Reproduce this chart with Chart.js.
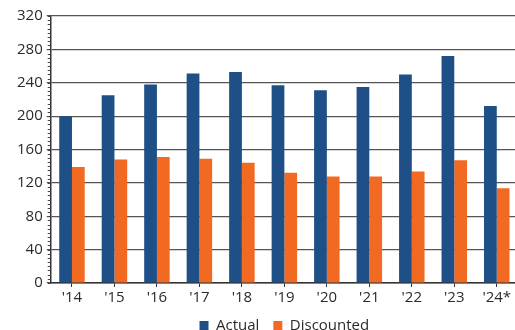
<!DOCTYPE html>
<html>
<head>
<meta charset="utf-8">
<script src="https://cdn.jsdelivr.net/npm/chart.js@4"></script>
<style>
  html, body { margin: 0; padding: 0; background: #fff; overflow: hidden; }
  #wrap { width: 518px; height: 343px; }
</style>
</head>
<body>
<div id="wrap"><canvas id="c" width="518" height="343"></canvas></div>
<script>
const years = ["'14", "'15", "'16", "'17", "'18", "'19", "'20", "'21", "'22", "'23", "'24*"];
const actual = [200, 225, 238, 251, 253, 237, 231, 235, 250, 272, 212];
const discounted = [139, 148, 151, 149, 144, 132, 127.5, 127.5, 133.5, 147, 113.5];
const yTicks = [0, 40, 80, 120, 160, 200, 240, 280, 320];

const FONT = "'Open Sans', 'Noto Sans', sans-serif";
const TEXT = '#2b2b2b';

// small minor tick marks on the left of the value axis
const minorTicks = {
  id: 'minorTicks',
  afterDraw(chart) {
    const y = chart.scales.y;
    const ctx = chart.ctx;
    ctx.save();
    ctx.strokeStyle = '#444';
    ctx.lineWidth = 1;
    for (let v = y.min; v <= y.max; v += 5) {
      const py = Math.round(y.getPixelForValue(v)) + 0.5;
      ctx.beginPath();
      ctx.moveTo(y.right - 3, py);
      ctx.lineTo(y.right, py);
      ctx.stroke();
    }
    ctx.restore();
  }
};

new Chart(document.getElementById('c'), {
  type: 'bar',
  data: {
    labels: years,
    datasets: [
      { label: 'Actual', data: actual, backgroundColor: '#1f4f87', borderWidth: 0 },
      { label: 'Discounted', data: discounted, backgroundColor: '#f26a21', borderWidth: 0 }
    ]
  },
  options: {
    responsive: false,
    animation: false,
    devicePixelRatio: 1,
    layout: { padding: { top: 16, left: 13, right: 0, bottom: 0 } },
    datasets: { bar: { categoryPercentage: 0.6, barPercentage: 1.0 } },
    scales: {
      x: {
        afterFit(scale) { scale.height -= 5; },
        grid: { display: true, drawOnChartArea: false, offset: false, color: '#333', tickLength: 4 },
        border: { color: '#333', width: 1.5 },
        ticks: { color: TEXT, font: { family: FONT, size: 15 }, padding: 2, maxRotation: 0 }
      },
      y: {
        min: 0, max: 320,
        afterBuildTicks(scale) { scale.ticks = yTicks.map(v => ({ value: v })); },
        grid: { color: '#555', lineWidth: 1.2, tickLength: 4 },
        border: { color: '#333', width: 1.5 },
        ticks: { color: TEXT, font: { family: FONT, size: 15 }, padding: 4 }
      }
    },
    plugins: {
      legend: {
        position: 'bottom',
        fullSize: false,
        labels: {
          color: TEXT,
          font: { family: FONT, size: 15 },
          boxWidth: 9, boxHeight: 9,
          padding: 14
        }
      },
      tooltip: { enabled: false }
    }
  },
  plugins: [minorTicks]
});
</script>
</body>
</html>
